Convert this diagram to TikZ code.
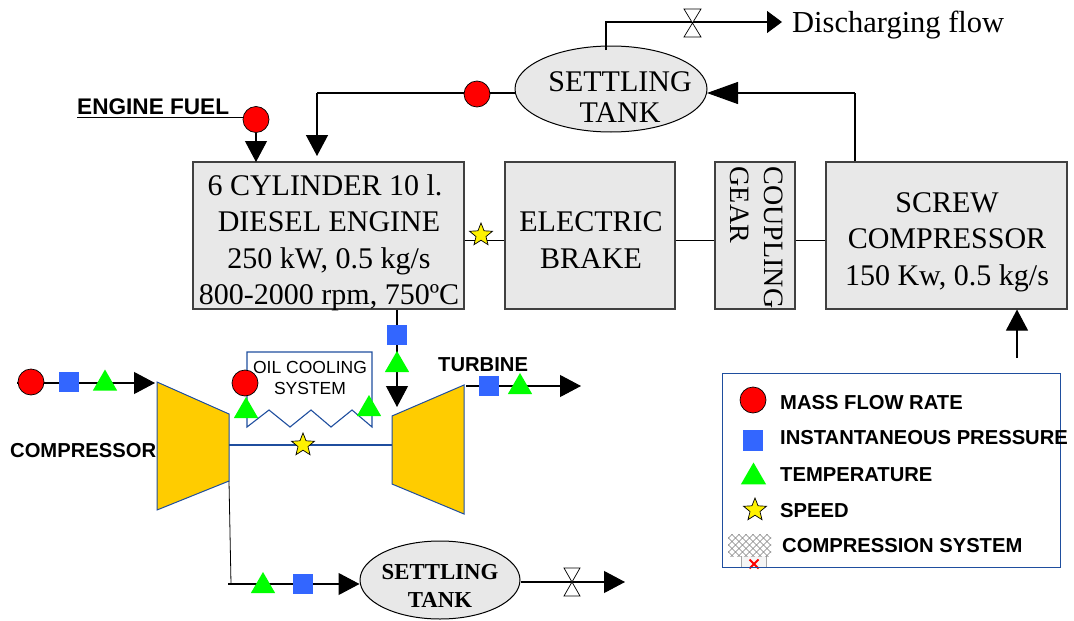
\documentclass[tikz,border=0pt]{standalone}
\usepackage{fontspec}
\setmainfont{Liberation Serif}
\setsansfont{Liberation Sans}
\usetikzlibrary{shapes.geometric,shapes.misc,arrows.meta}
\definecolor{boxgray}{HTML}{E8E8E8}
\definecolor{pblue}{HTML}{3366FF}
\definecolor{lineblue}{HTML}{1F4E9E}
\definecolor{torange}{HTML}{FFCC00}
\definecolor{tgreen}{HTML}{00FF00}
\tikzset{
 block/.style={draw=black!75,line width=1.1pt,fill=boxgray,inner sep=0pt},
 blocktext/.style={inner sep=0pt,align=center,font=\fontsize{30}{36.5}\selectfont},
 massm/.style={circle,draw=black,fill=red,minimum size=26pt,inner sep=0pt,line width=.7pt},
 presm/.style={rectangle,fill=pblue,minimum size=20.5pt,inner sep=0pt},
 tempm/.style={regular polygon,regular polygon sides=3,fill=tgreen,minimum size=28pt,inner sep=0pt},
 speedm/.style={star,star points=5,star point ratio=2.3,draw=black,fill=yellow,minimum size=24pt,inner sep=0pt,line width=.7pt},
 lbl/.style={font=\sffamily\bfseries\fontsize{20.2}{22}\selectfont,inner sep=0pt},
 flow/.style={draw=black,line width=1.1pt},
 head/.style={flow,-{Triangle[length=21pt,width=22pt]}},
 headl/.style={flow,-{Triangle[length=31pt,width=22pt]}},
 heads/.style={flow,-{Triangle[length=15pt,width=22pt]}},
 thinl/.style={draw=black,line width=.8pt},
 tank/.style={ellipse,draw=black,line width=1pt,fill=boxgray,inner sep=0pt},
 valveb/.style={draw=black,line width=.7pt,fill=white},
 tshape/.style={draw=lineblue,line width=1pt,fill=torange},
 bluel/.style={draw=lineblue,line width=1.3pt},
}
\begin{document}
\begin{tikzpicture}[x=1pt,y=-1pt]
\useasboundingbox (0,0) rectangle (1074,621);
% blocks
\node[block,minimum width=271pt,minimum height=147pt] (engine) at (328.5,235.5) {};
\node[blocktext] (enginet) at (329,243) {6 CYLINDER 10 l.\hspace*{8pt}\\DIESEL ENGINE\\250 kW, 0.5 kg/s\\800-2000 rpm, 750ºC};
\node[block,minimum width=170pt,minimum height=147pt] (brake) at (590,235.5) {};
\node[blocktext] (braket) at (591,240) {ELECTRIC\\BRAKE};
\node[block,minimum width=80pt,minimum height=147pt] (gear) at (755,235.5) {};
\node[rotate=-90,align=left,font=\fontsize{28}{34}\selectfont,inner sep=0pt] (geart) at (757,237.5) {COUPLING\\GEAR};
\node[block,minimum width=241pt,minimum height=147pt] (screw) at (946.5,235.5) {};
\node[blocktext] (screwt) at (947,242) {SCREW\\COMPRESSOR\\150 Kw, 0.5 kg/s};
% settling tank 1
\coordinate (t1up) at (606,50);
\coordinate (t1corner) at (606,22);
\coordinate (flowend) at (782,22);
\coordinate (tankin) at (855,93);
\coordinate (tanktip) at (707,93);
\coordinate (fuelcorner) at (317,93);
\coordinate (enginein2) at (317,156);
\coordinate (enginein1) at (256,162);
\node[tank,minimum width=192pt,minimum height=86pt] (tank1) at (611,89) {};
\node[inner sep=0pt,align=center,font=\fontsize{30}{31}\selectfont] (tank1t) at (620,97) {SETTLING\\TANK};
\draw[heads] (t1up) -- (t1corner) -- (flowend);
\draw[valveb] (684,9) -- (701,9) -- (684,37) -- (701,37) -- cycle;
\node[anchor=base west,inner sep=0pt,font=\fontsize{30.5}{31}\selectfont] (dis) at (792,32) {Discharging flow};
\draw[flow] (screw.north -| tankin) -- (tankin);
\draw[headl] (tankin) -- (tanktip);
\draw[flow,line width=1.4pt] (tank1.west |- fuelcorner) -- (fuelcorner);
\draw[head,line width=1.4pt] (fuelcorner) -- (enginein2);
\node[massm] (m1) at (477,94) {};
\node[massm] (m2) at (256,119.5) {};
\draw[head] (m2.south) -- (enginein1);
\node[lbl,anchor=base west,font=\sffamily\bfseries\fontsize{22.6}{24}\selectfont] (fuel) at (77,114) {ENGINE FUEL};
\coordinate (fuelline) at (77,117.5);
\draw[flow] (fuelline) -- (fuelline -| m2.west);
% mid links
\coordinate (midl) at (600,240);
\draw[thinl] (engine.east |- midl) -- (brake.west |- midl);
\node[speedm] (s1) at (481,235) {};
\draw[thinl] (brake.east |- midl) -- (gear.west |- midl);
\draw[thinl] (gear.east |- midl) -- (screw.west |- midl);
% screw inlet
\coordinate (screwin) at (1017,358);
\draw[head] (screwin) -- (screw.south -| screwin);
% exhaust
\coordinate (exh) at (397,407);
\draw[flow] (engine.south -| exh) -- (exh |- 0,385);
\draw[head] (exh |- 0,372) -- (exh);
\node[presm] (p1) at (397,335) {};
\node[tempm] (t1) at (397,365) {};
% oil cooling
\draw[draw=lineblue,line width=1.1pt] (247,427) -- (247,352) -- (372,352) -- (372,427) -- (352,410) -- (331,427) -- (311,410) -- (290,427) -- (269,410) -- cycle;
\node[inner sep=0pt,align=center,font=\sffamily\fontsize{17.5}{21}\selectfont] (oil) at (310,378) {OIL COOLING\\SYSTEM};
\node[massm] (m3) at (245,383) {};
\node[tempm] (t3) at (246,411) {};
\node[tempm] (t4) at (369,409) {};
% compressor and turbine
\coordinate (cA) at (157,382); \coordinate (cB) at (229,414); \coordinate (cC) at (229,481); \coordinate (cD) at (157,510);
\coordinate (tA) at (392,416); \coordinate (tB) at (464,385); \coordinate (tC) at (464,514); \coordinate (tD) at (392,484);
\coordinate (shaftL) at (229,445); \coordinate (shaftR) at (392,445);
\draw[tshape] (cA) -- (cB) -- (cC) -- (cD) -- cycle;
\draw[tshape] (tA) -- (tB) -- (tC) -- (tD) -- cycle;
\draw[bluel] (shaftL) -- (shaftR);
\node[speedm] (s2) at (303,445) {};
\node[lbl,anchor=base west] (compl) at (10,457) {COMPRESSOR};
\node[lbl,anchor=base west] (turbl) at (438,371) {TURBINE};
% compressor inlet
\coordinate (cinS) at (17,383); \coordinate (cinE) at (155,383);
\draw[head] (cinS) -- (cinE);
\node[massm] (m4) at (31,382) {};
\node[presm] (p4) at (69,382) {};
\node[tempm] (t5) at (105,383.5) {};
% turbine outlet
\coordinate (toS) at (466,386); \coordinate (toE) at (581,386);
\draw[head] (toS) -- (toE);
\node[presm] (p5) at (489,386) {};
\node[tempm] (t6) at (520,387) {};
% lower line
\coordinate (lowcorner) at (231,584); \coordinate (lowstart) at (228,584);
\draw[thinl] (cC) -- (lowcorner);
\node[tank,minimum width=160pt,minimum height=78pt] (tank2) at (440,580) {};
\node[inner sep=0pt,align=center,font=\bfseries\fontsize{22.8}{28}\selectfont] (tank2t) at (440,586) {SETTLING\\TANK};
\draw[head] (lowstart) -- (tank2.west |- lowstart);
\node[tempm] (t7) at (263,586) {};
\node[presm] (p7) at (303,584) {};
\coordinate (lowout) at (625,582);
\draw[head] (tank2.east |- lowout) -- (lowout);
\draw[valveb] (564,568) -- (580,568) -- (564,596) -- (580,596) -- cycle;
% legend
\node[draw=none,minimum width=24pt,minimum height=11pt,inner sep=0pt,fill=black!4] (lb) at (754,561.5) {};
\draw[black!35,line width=.8pt] (lb.north west) -- (lb.south west) (lb.north east) -- (lb.south east);
\node[cross out,draw=red,line width=2pt,minimum size=7pt,inner sep=0pt] (lx) at (754,564) {};
\node[draw=lineblue,line width=1pt,minimum width=338pt,minimum height=194pt,inner sep=0pt] (legend) at (891,470) {};
\node[massm,minimum size=26pt] (lm) at (753,400) {};
\node[presm] (lp) at (753,440.5) {};
\node[tempm,minimum size=29pt] (lt) at (753.5,477) {};
\node[speedm] (ls) at (755,510) {};
\node[minimum width=43pt,minimum height=22pt,inner sep=0pt,
  path picture={\foreach \d in {-56,-49,...,56}{\draw[black!50,line width=.45pt] ([xshift=\d pt]path picture bounding box.center) ++(-16,-16) -- ++(32,32);\draw[black!50,line width=.45pt] ([xshift=\d pt]path picture bounding box.center) ++(-16,16) -- ++(32,-32);}}] (lh) at (749.5,545) {};
\node[lbl,anchor=base west] (l1) at (780,409) {MASS FLOW RATE};
\node[lbl,anchor=base west] (l2) at (780,444) {INSTANTANEOUS PRESSURE};
\node[lbl,anchor=base west] (l3) at (780,481) {TEMPERATURE};
\node[lbl,anchor=base west] (l4) at (780,517) {SPEED};
\node[lbl,anchor=base west] (l5) at (782,552) {COMPRESSION SYSTEM};
\end{tikzpicture}
\end{document}
